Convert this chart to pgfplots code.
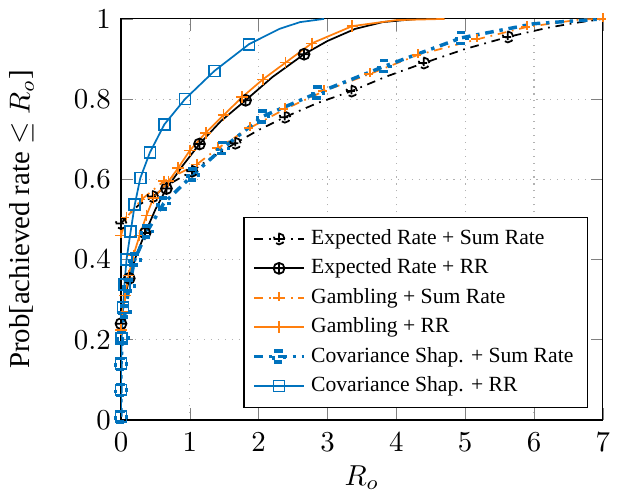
\documentclass[border=0pt]{standalone}
\usepackage{fontspec}
\setmainfont{Liberation Serif}
\usepackage{pgfplots}
\pgfplotsset{compat=1.18}
\definecolor{mblue}{rgb}{0,0.447,0.741}
\definecolor{morange}{RGB}{255,127,14}

\begin{document}
\begin{tikzpicture}
\begin{axis}[
  name=ax,
  scale only axis,
  width=167pt, height=139pt,
  xmin=0, xmax=7, ymin=0, ymax=1,
  xtick={0,...,7},
  ytick={0,0.2,0.4,0.6,0.8,1},
  tick align=inside,
  xmajorgrids, ymajorgrids,
  grid style={dotted, gray!60},
  tick style={gray},
  xticklabel style={yshift=-1pt},
  xlabel={$R_o$},
  xlabel style={yshift=2pt},
  ylabel={Prob[achieved rate $\leq R_o$]},
  ylabel style={yshift=7pt},
  legend pos=south east,
  legend cell align=left,
  legend image post style={mark indices={2}},
  legend style={font=\fontsize{7.5}{9}\selectfont, draw=black, fill=white,
    row sep=-0.5pt},
]
% Expected Rate + Sum Rate
\addplot[black, line width=0.6pt, dash dot, mark=oplus, mark size=1.9pt,
  mark indices={1,4,6,8,10,12,14,16}] coordinates {
  (0,0.49) (0.1,0.51) (0.25,0.535) (0.46,0.557) (0.7,0.588) (1.03,0.62)
  (1.33,0.656) (1.66,0.69) (2.0,0.723) (2.38,0.755) (2.85,0.79) (3.35,0.82)
  (3.85,0.856) (4.4,0.89) (5.0,0.925) (5.62,0.955) (6.2,0.978) (6.6,0.99) (7,1.0)
};
\addlegendentry{Expected Rate + Sum Rate}
% Expected Rate + RR
\addplot[black, line width=0.6pt, mark=oplus, mark size=1.9pt,
  mark indices={1,3,5,7,9,11,13}] coordinates {
  (0,0.24) (0.05,0.3) (0.12,0.353) (0.22,0.41) (0.35,0.466) (0.5,0.525)
  (0.66,0.577) (0.9,0.635) (1.14,0.688) (1.45,0.745) (1.81,0.797) (2.2,0.855)
  (2.66,0.912) (3.0,0.945) (3.4,0.975) (3.8,0.992) (4.3,1.0)
};
\addlegendentry{Expected Rate + RR}
% Gambling + Sum Rate
\addplot[morange, line width=0.6pt, dash dot, mark=+, mark size=2pt,
  mark indices={1,2,3,4,5,6,7,8,9,10,11,12,13,15}] coordinates {
  (0,0.46) (0.08,0.505) (0.3,0.55) (0.62,0.595) (1.1,0.637) (1.41,0.678)
  (1.87,0.728) (2.38,0.775) (2.95,0.82) (3.62,0.863) (4.31,0.91) (5.17,0.949)
  (5.9,0.98) (6.69,0.999) (7,1.0)
};
\addlegendentry{Gambling + Sum Rate}
% Gambling + RR
\addplot[morange, line width=0.6pt, mark=+, mark size=2pt,
  mark indices={1,2,3,4,5,6,7,8,9,10,11,12,13,14,15,16,17,18}] coordinates {
  (0,0.225) (0.02,0.27) (0.06,0.31) (0.11,0.36) (0.18,0.41) (0.27,0.46)
  (0.37,0.51) (0.47,0.553) (0.69,0.595) (0.83,0.628) (1.0,0.672) (1.23,0.716)
  (1.49,0.76) (1.76,0.805) (2.06,0.849) (2.39,0.891) (2.77,0.939) (3.36,0.982)
  (4.0,0.997) (4.7,1.0)
};
\addlegendentry{Gambling + RR}
% Covariance Shap. + Sum Rate
\addplot[mblue, line width=1.2pt, dash dot, mark=square, mark size=1.9pt,
  mark indices={1,2,3,4,5,6,7,8,9,10,11,12,13,14,15}] coordinates {
  (0,0.008) (0,0.075) (0,0.14) (0.02,0.205) (0.06,0.27) (0.12,0.335)
  (0.2,0.40) (0.38,0.47) (0.62,0.54) (1.05,0.612) (1.48,0.678) (2.06,0.757)
  (2.86,0.816) (3.83,0.882) (4.95,0.953) (6.0,0.988) (7,1.0)
};
\addlegendentry{Covariance Shap. + Sum Rate}
% Covariance Shap. + RR
\addplot[mblue, line width=0.6pt, mark=square, mark size=1.9pt,
  mark indices={1,2,3,4,5,6,7,8,9,10,11,12,13,14,15}] coordinates {
  (0,0.008) (0,0.075) (0,0.14) (0.01,0.203) (0.03,0.28) (0.05,0.337)
  (0.08,0.40) (0.14,0.47) (0.20,0.537) (0.28,0.603) (0.42,0.667) (0.63,0.737)
  (0.93,0.80) (1.355,0.87) (1.86,0.937) (2.3,0.975) (2.6,0.992) (2.95,1.0)
};
\addlegendentry{Covariance Shap. + RR}
\end{axis}
\path (ax.east) -- ++(7pt,0);
\path (ax.south) -- ++(0,-25.5pt);
\end{tikzpicture}
\end{document}
